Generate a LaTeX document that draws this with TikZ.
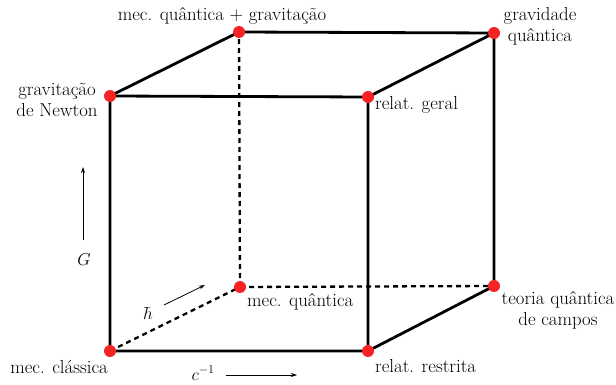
\documentclass[tikz,border=0pt]{standalone}
\usepackage{fontspec}
\usetikzlibrary{arrows.meta}
\definecolor{dotred}{RGB}{245,35,35}
\begin{document}
\begin{tikzpicture}[x=1pt,y=-1pt,
  edge/.style={line width=2.8pt},
  hidden/.style={line width=2.3pt,dash pattern=on 5pt off 4pt},
  vtx/.style={circle,fill=dotred,inner sep=0pt,minimum size=12pt},
  lbl/.style={font=\fontsize{18.8}{21}\selectfont,inner sep=0pt,align=center},
  axis/.style={line width=0.8pt,-{Stealth[length=6pt,width=4pt]}}]
\useasboundingbox (0,0) rectangle (616,385);
% vertices
\coordinate (mc) at (110,351);
\coordinate (rr) at (368,351);
\coordinate (rg) at (368,97);
\coordinate (gn) at (110,96);
\coordinate (mqg) at (239,32);
\coordinate (gq) at (494,33);
\coordinate (mq) at (240,287);
\coordinate (tqc) at (494,286);
% hidden edges
\draw[hidden] (mc) -- (mq);
\draw[hidden] (mq) -- (tqc);
\draw[hidden] (mq) -- (mqg);
% visible edges
\draw[edge] (mc) -- (rr) -- (rg) -- (gn) -- cycle;
\draw[edge] (gn) -- (mqg) -- (gq) -- (rg);
\draw[edge] (gq) -- (tqc) -- (rr);
% dots
\foreach \p in {mc,rr,rg,gn,mqg,gq,mq,tqc} \node[vtx] (v\p) at (\p) {};
% labels
\node[lbl] (Lmqg) at (222,16) {mec. quântica + gravitação};
\node[lbl] (Lgq) at (540,26) {gravidade\\quântica};
\node[lbl] (Lgn) at (57,100) {gravitação\\de Newton};
\node[lbl,anchor=west] (Lrg) at (375,105) {relat. geral};
\node[lbl,anchor=west] (Lmq) at (247,302) {mec. quântica};
\node[lbl] (Ltqc) at (558,310) {teoria quântica\\de campos};
\node[lbl,anchor=west] (Lrr) at (375,366) {relat. restrita};
\node[lbl,anchor=east] (Lmc) at (108,367) {mec. clássica};
% axes
\coordinate (g0) at (83,240); \coordinate (g1) at (83,167);
\draw[axis] (g0) -- (g1);
\node[lbl] (LG) at (84,260) {$G$};
\coordinate (h0) at (164,305); \coordinate (h1) at (205,285);
\draw[axis] (h0) -- (h1);
\node[lbl] (Lh) at (148,313) {$\hbar$};
\coordinate (c0) at (226,375); \coordinate (c1) at (297,375);
\draw[axis] (c0) -- (c1);
\node[lbl] (Lc) at (203,373) {$c^{-1}$};
\end{tikzpicture}
\end{document}
